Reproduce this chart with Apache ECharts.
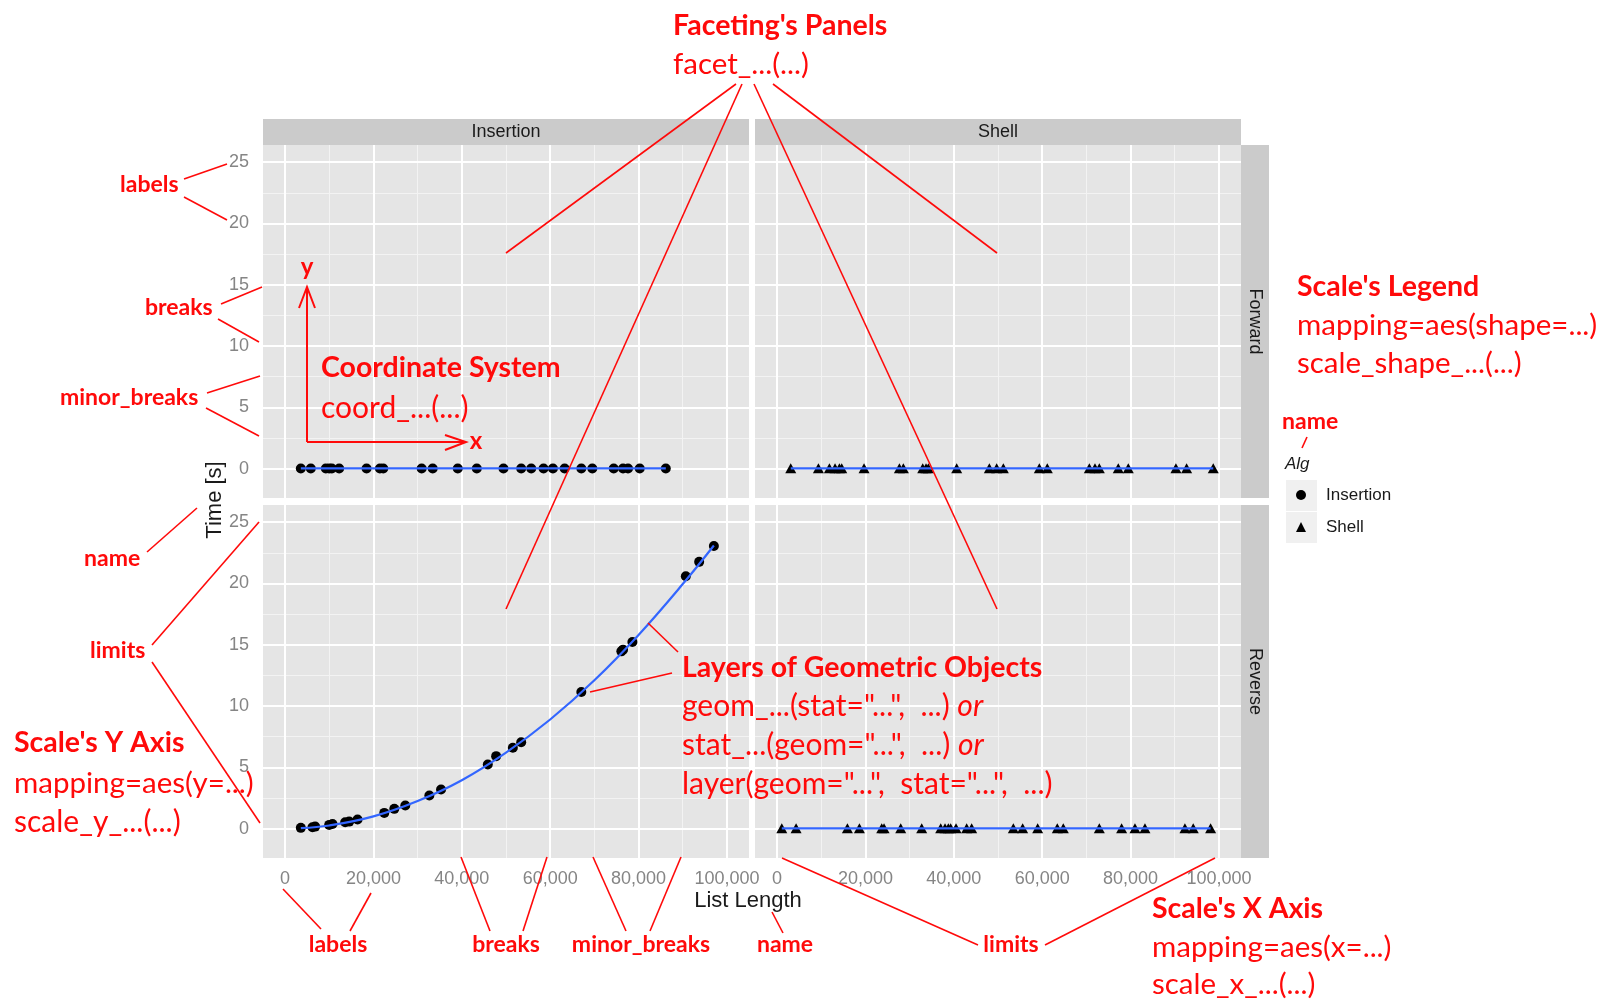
<!DOCTYPE html>
<html>
<head>
<meta charset="utf-8">
<script src="https://cdn.jsdelivr.net/npm/echarts@6/dist/echarts.min.js"></script>
<style>
  html, body { margin: 0; padding: 0; background: #ffffff; }
  #chart { width: 1598px; height: 1000px; }
</style>
</head>
<body>
<div id="chart"></div>
<script>
// ---------------- data ----------------
const facetCols = ['Insertion', 'Shell'];
const facetRows = ['Forward', 'Reverse'];

const xMajorBreaks = [0, 20000, 40000, 60000, 80000, 100000];
const xMinorBreaks = [10000, 30000, 50000, 70000, 90000];
const yMajorBreaks = [0, 5, 10, 15, 20, 25];
const yMinorBreaks = [2.5, 7.5, 12.5, 17.5, 22.5];

// Insertion / Forward
const insertionForwardX = [3560, 5820, 9220, 9980, 10580, 12240, 18440, 21460, 22220, 30910, 33410, 39080, 43390, 49430, 53440, 55710, 58500, 60620, 63270, 67050, 69540, 74380, 76490, 77620, 80270, 86170];
const insertionForwardY = [0.00, 0.00, 0.00, 0.00, 0.00, 0.00, 0.00, 0.00, 0.00, 0.00, 0.00, 0.00, 0.00, 0.00, 0.00, 0.00, 0.00, 0.00, 0.00, 0.00, 0.00, 0.00, 0.00, 0.00, 0.00, 0.00];
// Shell / Forward
const shellForwardX = [3090, 9350, 11840, 13120, 14100, 14630, 19680, 27680, 28580, 32960, 33710, 34240, 40650, 48040, 49700, 51210, 59350, 61160, 70670, 71950, 72930, 77220, 79490, 90270, 92690, 98720];
const shellForwardY = [0.02, 0.02, 0.02, 0.02, 0.02, 0.02, 0.02, 0.02, 0.02, 0.02, 0.02, 0.02, 0.02, 0.02, 0.02, 0.02, 0.02, 0.02, 0.02, 0.02, 0.02, 0.02, 0.02, 0.02, 0.02, 0.02];
// Insertion / Reverse
const insertionReverseX = [3560, 6200, 6800, 9980, 10730, 13600, 14510, 16400, 22450, 24720, 27210, 32650, 35300, 45880, 47770, 51550, 53440, 67050, 76110, 76490, 78610, 90700, 93720, 97050];
const insertionReverseY = [0.06, 0.11, 0.16, 0.30, 0.38, 0.52, 0.57, 0.74, 1.28, 1.61, 1.88, 2.70, 3.19, 5.23, 5.91, 6.59, 7.05, 11.14, 14.46, 14.60, 15.22, 20.59, 21.76, 23.06];
// Shell / Reverse
const shellReverseX = [1060, 4300, 15910, 18630, 23680, 24210, 27980, 32730, 37030, 38010, 38760, 39290, 40500, 42910, 44040, 53470, 55580, 58980, 63420, 64780, 72930, 77980, 81000, 83260, 92310, 94190, 98120];
const shellReverseY = [0.02, 0.02, 0.02, 0.02, 0.02, 0.02, 0.02, 0.02, 0.02, 0.02, 0.02, 0.02, 0.02, 0.02, 0.02, 0.02, 0.02, 0.02, 0.02, 0.02, 0.02, 0.02, 0.02, 0.02, 0.02, 0.02, 0.02];

// smoothed fits (blue lines)
const insertionForwardFitX = [3560, 86170];
const insertionForwardFitY = [0.01, 0.01];
const shellForwardFitX = [3090, 98720];
const shellForwardFitY = [0.02, 0.02];
const insertionReverseFitX = [3560, 10000, 20000, 30000, 40000, 50000, 60000, 70000, 80000, 90000, 97050];
const insertionReverseFitY = [0.03, 0.25, 1.00, 2.25, 3.95, 6.20, 8.90, 12.10, 15.80, 19.95, 23.10];
const shellReverseFitX = [1060, 98120];
const shellReverseFitY = [0.02, 0.02];

// ---------------- layout ----------------
const FONT_CHART = '"Liberation Sans", Arial, Helvetica, sans-serif';
const FONT_NOTE = 'Lato, "Noto Sans", sans-serif';
const RED = '#ff0a0a';
const AXIS_GREY = '#858585';

const zip = (xs, ys) => xs.map((x, i) => [x, ys[i]]);

const panels = [
  { col: 0, row: 0, pts: zip(insertionForwardX, insertionForwardY), fit: zip(insertionForwardFitX, insertionForwardFitY) },
  { col: 1, row: 0, pts: zip(shellForwardX, shellForwardY), fit: zip(shellForwardFitX, shellForwardFitY) },
  { col: 0, row: 1, pts: zip(insertionReverseX, insertionReverseY), fit: zip(insertionReverseFitX, insertionReverseFitY) },
  { col: 1, row: 1, pts: zip(shellReverseX, shellReverseY), fit: zip(shellReverseFitX, shellReverseFitY) }
];
const panelLeft = [263, 755];
const panelTop = [145, 505];
const panelW = 486, panelH = 353;

const grids = [], xAxes = [], yAxes = [], series = [];
const fmt = v => String(v).replace(/\B(?=(\d{3})+(?!\d))/g, ',');

panels.forEach((p, i) => {
  grids.push({
    left: panelLeft[p.col], top: panelTop[p.row], width: panelW, height: panelH,
    show: true, backgroundColor: '#e5e5e5', borderWidth: 0, containLabel: false
  });
  const bottom = p.row === 1, leftSide = p.col === 0;
  xAxes.push({
    type: 'value', gridIndex: i, min: -5000, max: 105000,
    splitLine: { show: false }, axisLine: { show: false },
    axisTick: { show: bottom, length: 6, customValues: xMajorBreaks, lineStyle: { color: AXIS_GREY, width: 1 } },
    axisLabel: { show: bottom, customValues: xMajorBreaks, margin: 12, color: AXIS_GREY, fontSize: 18, fontFamily: FONT_CHART, formatter: fmt }
  });
  yAxes.push({
    type: 'value', gridIndex: i, min: -2.4, max: 26.4,
    splitLine: { show: false }, axisLine: { show: false },
    axisTick: { show: leftSide, length: 6, customValues: yMajorBreaks, lineStyle: { color: AXIS_GREY, width: 1 } },
    axisLabel: { show: leftSide, customValues: yMajorBreaks, margin: 14, color: AXIS_GREY, fontSize: 18, fontFamily: FONT_CHART }
  });
  // gridlines, drawn through the axes' scales (kept beneath the data)
  series.push({
    type: 'line', name: 'minor grid ' + i, xAxisIndex: i, yAxisIndex: i, data: [], silent: true, z: 1,
    markLine: {
      silent: true, z: 1, symbol: ['none', 'none'], label: { show: false }, animation: false,
      lineStyle: { color: '#f3f3f3', width: 1, type: 'solid' },
      emphasis: { disabled: true },
      data: xMinorBreaks.map(v => ({ xAxis: v })).concat(yMinorBreaks.map(v => ({ yAxis: v })))
    }
  });
  series.push({
    type: 'line', name: 'major grid ' + i, xAxisIndex: i, yAxisIndex: i, data: [], silent: true, z: 1,
    markLine: {
      silent: true, z: 1, symbol: ['none', 'none'], label: { show: false }, animation: false,
      lineStyle: { color: '#ffffff', width: 2, type: 'solid' },
      emphasis: { disabled: true },
      data: xMajorBreaks.map(v => ({ xAxis: v })).concat(yMajorBreaks.map(v => ({ yAxis: v })))
    }
  });
  series.push({
    type: 'scatter', name: facetCols[p.col], xAxisIndex: i, yAxisIndex: i, data: p.pts, z: 3,
    symbol: p.col === 0 ? 'circle' : 'triangle', symbolSize: p.col === 0 ? 10 : [11, 10],
    itemStyle: { color: '#000000', opacity: 1 }, silent: true
  });
  series.push({
    type: 'line', name: facetCols[p.col] + ' fit', xAxisIndex: i, yAxisIndex: i, data: p.fit, z: 4,
    smooth: 0.4, showSymbol: false, silent: true,
    lineStyle: { color: '#3366ff', width: 2.2 }
  });
});

// ---------------- graphic: strips, titles, annotations ----------------
const G = [];
function txt(x, y, text, o) {
  o = o || {};
  G.push({
    type: 'text', x: x, y: y, z: o.z || 100, rotation: o.rot || 0, silent: true,
    style: {
      text: text, fill: o.color || RED, fontSize: o.size || 29, fontFamily: o.family || FONT_NOTE,
      fontWeight: o.bold ? 'bold' : 'normal', fontStyle: o.italic ? 'italic' : 'normal',
      align: o.align || 'left', verticalAlign: 'middle', rich: o.rich
    }
  });
}
function ln(x1, y1, x2, y2, w) {
  G.push({ type: 'line', z: 100, silent: true, shape: { x1, y1, x2, y2 }, style: { stroke: RED, lineWidth: w || 1.6 } });
}
function poly(points, w) {
  G.push({ type: 'polyline', z: 100, silent: true, shape: { points }, style: { stroke: RED, fill: null, lineWidth: w || 2 } });
}
function rect(x, y, w, h, fill, z) {
  G.push({ type: 'rect', z: z || 0, silent: true, shape: { x, y, width: w, height: h }, style: { fill } });
}

// facet strips
facetCols.forEach((name, c) => {
  rect(panelLeft[c], 119, panelW, 26, '#cbcbcb');
  txt(panelLeft[c] + panelW / 2, 132, name, { color: '#1a1a1a', size: 18, family: FONT_CHART, align: 'center', z: 5 });
});
facetRows.forEach((name, r) => {
  rect(1241, panelTop[r], 28, panelH, '#cbcbcb');
  txt(1255, panelTop[r] + panelH / 2, name, { color: '#1a1a1a', size: 18, family: FONT_CHART, align: 'center', rot: -Math.PI / 2, z: 5 });
});

// axis titles
txt(215, 500, 'Time [s]', { color: '#1a1a1a', size: 22, family: FONT_CHART, align: 'center', rot: Math.PI / 2, z: 5 });
txt(748, 901, 'List Length', { color: '#1a1a1a', size: 22, family: FONT_CHART, align: 'center', z: 5 });

// legend title and key backgrounds
txt(1285, 464, 'Alg', { color: '#1a1a1a', size: 17, family: FONT_CHART, italic: true, z: 5 });
rect(1286, 480, 31, 31, '#f0f0f0', 1);
rect(1286, 512, 31, 31, '#f0f0f0', 1);

// top annotation
txt(673, 26, "Faceting's Panels", { bold: true, size: 28.5 });
txt(673, 64, 'facet_...(...)', { size: 29.5 });
ln(736, 84, 506, 253);
ln(742, 84, 506, 609);
ln(754, 84, 997, 609);
ln(773, 84, 997, 253);

// y-scale annotations (left)
txt(120, 185, 'labels', { bold: true, size: 23 });
ln(184, 179, 227, 164); ln(184, 197, 227, 220);
txt(145, 308, 'breaks', { bold: true, size: 23 });
ln(221, 304, 262, 287); ln(218, 319, 259, 342);
txt(60, 398, 'minor_breaks', { bold: true, size: 23 });
ln(207, 393, 260, 376); ln(206, 408, 259, 436);
txt(84, 559, 'name', { bold: true, size: 23 });
ln(147, 552, 197, 508);
txt(90, 651, 'limits', { bold: true, size: 23 });
ln(152, 645, 259, 522); ln(152, 662, 260, 823);
txt(14, 743, "Scale's Y Axis", { bold: true, size: 28.5 });
txt(14, 783, 'mapping=aes(y=...)', { size: 29.5 });
txt(14, 822, 'scale_y_...(...)', { size: 30 });

// coordinate system
txt(307, 267, 'y', { bold: true, size: 24, align: 'center' });
ln(307, 289, 307, 442, 2);
poly([[299, 308], [307, 287], [315, 308]], 2);
ln(307, 442, 465, 442, 2);
poly([[445, 435], [466, 442], [445, 450]], 2);
txt(476, 441, 'x', { bold: true, size: 24, align: 'center' });
txt(321, 368, 'Coordinate System', { bold: true, size: 28.5 });
txt(321, 408, 'coord_...(...)', { size: 30 });

// layers
const richIt = { it: { fontStyle: 'italic', fontSize: 30, fontFamily: FONT_NOTE, fill: RED } };
txt(682, 668, 'Layers of Geometric Objects', { bold: true, size: 28.5 });
txt(682, 706, 'geom_...(stat="...",  ...) {it|or}', { size: 30, rich: richIt });
txt(682, 745, 'stat_...(geom="...",  ...) {it|or}', { size: 30, rich: richIt });
txt(682, 784, 'layer(geom="...",  stat="...",  ...)', { size: 30 });
ln(678, 652, 648, 623);
ln(672, 673, 590, 692);

// legend annotation
txt(1297, 287, "Scale's Legend", { bold: true, size: 28.5 });
txt(1297, 325, 'mapping=aes(shape=...)', { size: 29.5 });
txt(1297, 363, 'scale_shape_...(...)', { size: 29.5 });
txt(1282, 422, 'name', { bold: true, size: 23 });
ln(1307, 437, 1302, 448);

// x-scale annotations (bottom)
txt(338, 945, 'labels', { bold: true, size: 23, align: 'center' });
ln(283, 889, 321, 929); ln(371, 893, 350, 931);
txt(506, 945, 'breaks', { bold: true, size: 23, align: 'center' });
ln(461, 857, 490, 931); ln(547, 857, 523, 931);
txt(641, 945, 'minor_breaks', { bold: true, size: 23, align: 'center' });
ln(593, 857, 626, 931); ln(681, 857, 650, 931);
txt(785, 945, 'name', { bold: true, size: 23, align: 'center' });
ln(772, 912, 783, 933);
txt(1011, 945, 'limits', { bold: true, size: 23, align: 'center' });
ln(782, 858, 978, 945); ln(1045, 945, 1215, 858);
txt(1152, 909, "Scale's X Axis", { bold: true, size: 28.5 });
txt(1152, 947, 'mapping=aes(x=...)', { size: 29.5 });
txt(1152, 984, 'scale_x_...(...)', { size: 29.5 });

// ---------------- chart ----------------
const chart = echarts.init(document.getElementById('chart'), null, { renderer: 'canvas' });
chart.setOption({
  animation: false,
  backgroundColor: '#ffffff',
  grid: grids,
  xAxis: xAxes,
  yAxis: yAxes,
  legend: {
    left: 1296, top: 485, orient: 'vertical', padding: 0,
    itemWidth: 10, itemHeight: 10, itemGap: 12, selectedMode: false, z: 5,
    textStyle: { fontSize: 17, color: '#1a1a1a', fontFamily: FONT_CHART, lineHeight: 20, padding: [0, 0, 0, 15] },
    data: [{ name: 'Insertion', icon: 'circle', itemStyle: { color: '#000' } }, { name: 'Shell', icon: 'triangle', itemStyle: { color: '#000' } }]
  },
  series: series,
  graphic: { elements: G }
});
</script>
</body>
</html>
